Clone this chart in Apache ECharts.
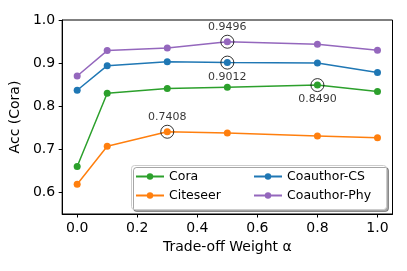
<!DOCTYPE html>
<html><head><meta charset="utf-8">
<script src="https://cdn.jsdelivr.net/npm/echarts@6/dist/echarts.min.js"></script>
<style>html,body{margin:0;padding:0;background:#fff}#c{width:407px;height:271px}</style>
</head><body><div id="c"></div>
<script>
const alphas = [0.0, 0.1, 0.3, 0.5, 0.8, 1.0];
const cora = [0.660, 0.830, 0.841, 0.844, 0.849, 0.834];
const citeseer = [0.619, 0.707, 0.7408, 0.738, 0.731, 0.727];
const coauthorCS = [0.837, 0.894, 0.903, 0.9012, 0.900, 0.878];
const coauthorPhy = [0.870, 0.929, 0.935, 0.9496, 0.944, 0.930];
const xTicks = [0.0, 0.2, 0.4, 0.6, 0.8, 1.0];
const yTicks = [0.6, 0.7, 0.8, 0.9, 1.0];
// highlighted best points: series name, index into alphas, label above?
const highlightNames = ['Coauthor-Phy', 'Coauthor-CS', 'Cora', 'Citeseer'];
const highlightIdx = [3, 3, 4, 2];
const highlightAbove = [true, false, false, true];

const seriesDefs = [
  {name: 'Cora', data: cora, color: '#2ca02c'},
  {name: 'Citeseer', data: citeseer, color: '#ff7f0e'},
  {name: 'Coauthor-CS', data: coauthorCS, color: '#1f77b4'},
  {name: 'Coauthor-Phy', data: coauthorPhy, color: '#9467bd'}
];
const font = 'DejaVu Sans';
const series = seriesDefs.map(s => ({
  name: s.name, type: 'line', data: alphas.map((a, i) => [a, s.data[i]]),
  symbol: 'circle', symbolSize: 7, color: s.color,
  lineStyle: {width: 1.5, color: s.color}, itemStyle: {color: s.color},
  emphasis: {disabled: true}, animation: false, z: 3
}));
const ringData = highlightNames.map((n, k) => {
  const s = seriesDefs.find(d => d.name === n);
  const i = highlightIdx[k];
  const v = s.data[i];
  return {value: [alphas[i], v], label: {show: true, position: highlightAbove[k] ? 'top' : 'bottom',
    distance: 2, formatter: v.toFixed(4)}};
});
series.push({
  type: 'scatter', data: ringData, symbol: 'circle', symbolSize: 13,
  itemStyle: {color: 'rgba(0,0,0,0)', borderColor: '#000', borderWidth: 1},
  label: {color: '#000', fontFamily: font, fontSize: 11},
  emphasis: {disabled: true}, animation: false, z: 5, silent: true
});
const chart = echarts.init(document.getElementById('c'), null, {renderer: 'canvas'});
const axisCommon = {
  axisLine: {show: true, onZero: false, lineStyle: {color: '#000', width: 1}},
  axisTick: {show: true, inside: false, length: 3.5, lineStyle: {color: '#000'}},
  splitLine: {show: false},
  axisLabel: {color: '#000', fontFamily: font, fontSize: 14, formatter: v => v.toFixed(1)},
  nameTextStyle: {color: '#000', fontFamily: font, fontSize: 14}
};
const legendCommon = {orient: 'vertical', top: 165, itemWidth: 28, itemHeight: 8, itemGap: 6,
  textStyle: {fontFamily: font, fontSize: 12.5, color: '#000'}, selectedMode: false, z: 10};
chart.setOption({
  animation: false,
  backgroundColor: '#fff',
  grid: {left: 62, right: 14.5, top: 20, bottom: 57, show: true, borderColor: '#000', borderWidth: 1, containLabel: false},
  xAxis: Object.assign({}, axisCommon, {
    type: 'value', min: -0.05, max: 1.05,
    name: 'Trade-off Weight α', nameLocation: 'middle', nameGap: 25,
    axisTick: Object.assign({}, axisCommon.axisTick, {customValues: xTicks}),
    axisLabel: Object.assign({}, axisCommon.axisLabel, {customValues: xTicks, margin: 7})
  }),
  yAxis: Object.assign({}, axisCommon, {
    type: 'value', min: 0.55, max: 1.0,
    name: 'Acc (Cora)', nameLocation: 'middle', nameGap: 36,
    axisTick: Object.assign({}, axisCommon.axisTick, {customValues: yTicks}),
    axisLabel: Object.assign({}, axisCommon.axisLabel, {customValues: yTicks, margin: 7})
  }),
  legend: [
    Object.assign({}, legendCommon, {data: ['Cora', 'Citeseer'], left: 130}),
    Object.assign({}, legendCommon, {data: ['Coauthor-CS', 'Coauthor-Phy'], left: 248})
  ],
  graphic: [{
    type: 'rect', left: 131, top: 165, z: 8,
    shape: {width: 255, height: 44, r: 3},
    style: {fill: '#fff', stroke: '#ccc', lineWidth: 1, shadowColor: 'rgba(0,0,0,0.35)', shadowOffsetX: 2, shadowOffsetY: 2, shadowBlur: 0}
  }],
  series: series
});
</script></body></html>
